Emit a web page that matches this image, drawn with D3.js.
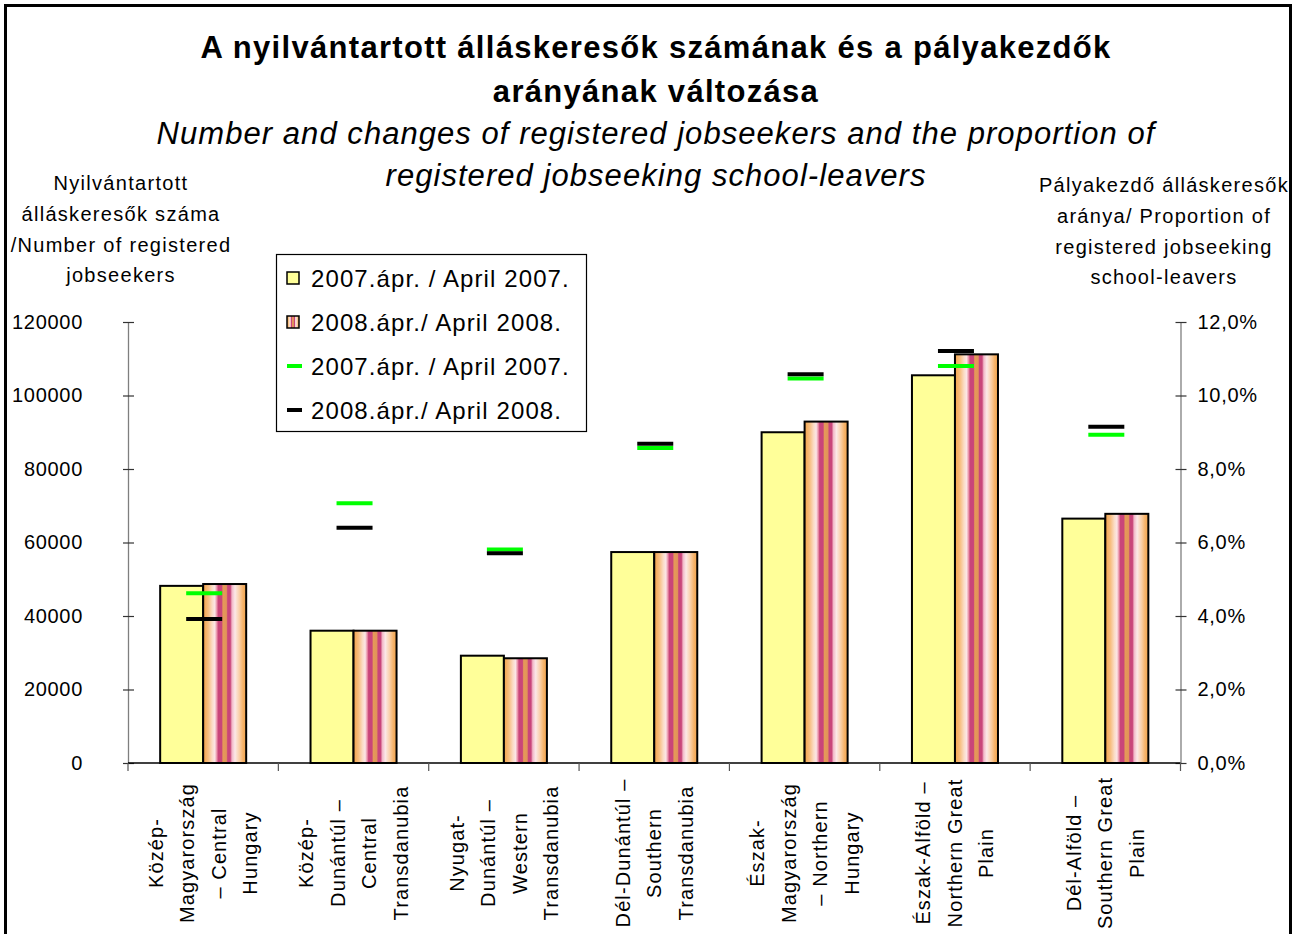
<!DOCTYPE html>
<html>
<head>
<meta charset="utf-8">
<script src="https://cdn.jsdelivr.net/npm/d3@7"></script>
<style>
    body { margin: 0; background: #fff; }
    svg { display: block; font-family: "Liberation Sans", Arial, sans-serif; }
</style>
</head>
<body>
<div id="chart"></div>
<script>
/* ===== DATA ===== */
const categories = [
    "Közép-\nMagyarország\n– Central\nHungary",
    "Közép-\nDunántúl –\nCentral\nTransdanubia",
    "Nyugat-\nDunántúl –\nWestern\nTransdanubia",
    "Dél-Dunántúl –\nSouthern\nTransdanubia",
    "Észak-\nMagyarország\n– Northern\nHungary",
    "Észak-Alföld –\nNorthern Great\nPlain",
    "Dél-Alföld –\nSouthern Great\nPlain"
];

const seriesNames = ["2007.ápr. / April 2007.", "2008.ápr./ April 2008."];

// number of registered jobseekers (left axis)
const jobseekers2007 = [48200, 36000, 29200, 57400, 90000, 105500, 66500];
const jobseekers2008 = [48700, 36000, 28500, 57400, 92900, 111200, 67800];

// proportion of school-leavers (right axis)
const leavers2007 = [0.0462, 0.0707, 0.0581, 0.0857, 0.1046, 0.1080, 0.0893];
const leavers2008 = [0.0392, 0.0640, 0.0571, 0.0869, 0.1058, 0.1121, 0.0915];

const leftTicks = [0, 20000, 40000, 60000, 80000, 100000, 120000];
const rightTicks = [0, 0.02, 0.04, 0.06, 0.08, 0.10, 0.12];

const titleLines = [
    "A nyilvántartott álláskeresők számának és a pályakezdők",
    "arányának változása"
];
const subtitleLines = [
    "Number and changes of registered jobseekers and the proportion of",
    "registered jobseeking school-leavers"
];
const leftTitle = ["Nyilvántartott", "álláskeresők száma", "/Number of registered", "jobseekers"];
const rightTitle = ["Pályakezdő álláskeresők", "aránya/ Proportion of", "registered jobseeking", "school-leavers"];

/* ===== DIMENSIONS ===== */
const width = 1301;
const height = 934;
const plot = { left: 128, right: 1180.5, top: 322, bottom: 763 };

const svg = d3.select("#chart")
    .append("svg")
    .attr("width", width)
    .attr("height", height);

/* ===== STRIPED FILL ===== */
const defs = svg.append("defs");
const grad = defs.append("linearGradient")
    .attr("id", "stripes")
    .attr("x1", "0").attr("x2", "1").attr("y1", "0").attr("y2", "0");

const stripeStops = [
    [0.00, "#f3a34a"], [0.12, "#f7be80"], [0.21, "#fbdcc6"], [0.27, "#fce6e6"],
    [0.32, "#e88ca4"], [0.35, "#c9457a"], [0.43, "#c9457a"], [0.46, "#e59a58"],
    [0.54, "#e2935a"], [0.57, "#c9457a"], [0.63, "#c9457a"], [0.67, "#f2b8c8"],
    [0.74, "#fce8e8"], [0.84, "#fad0a8"], [0.92, "#f6b46c"], [1.00, "#f3a34a"]
];
stripeStops.forEach(([o, c]) => {
    grad.append("stop").attr("offset", o).attr("stop-color", c);
});

const barFills = ["#ffff99", "url(#stripes)"];
const markerColors = ["#00ff00", "#000000"];

/* ===== SCALES ===== */
const x = d3.scaleBand()
    .domain(d3.range(categories.length))
    .range([plot.left, plot.right]);

const x1 = d3.scaleBand()
    .domain([0, 1])
    .range([0, x.bandwidth()])
    .paddingOuter(0.748);

const y = d3.scaleLinear().domain([0, 120000]).range([plot.bottom, plot.top]);
const y2 = d3.scaleLinear().domain([0, 0.12]).range([plot.bottom, plot.top]);

const pctFormat = (d) => (d * 100).toFixed(1).replace(".", ",") + "%";

/* ===== AXES ===== */
const leftAxis = svg.append("g")
    .attr("transform", `translate(${plot.left},0)`)
    .call(d3.axisLeft(y).tickValues(leftTicks).tickSize(0).tickPadding(45).tickFormat(d3.format("d")));

const rightAxis = svg.append("g")
    .attr("transform", `translate(${plot.right},0)`)
    .call(d3.axisRight(y2).tickValues(rightTicks).tickSize(0).tickPadding(17).tickFormat(pctFormat));

[leftAxis, rightAxis].forEach((g) => {
    g.select(".domain").attr("stroke", "#7f7f7f").attr("stroke-width", 1.3);
    g.selectAll(".tick line")
        .attr("x1", -5).attr("x2", 6)
        .attr("stroke", "#333").attr("stroke-width", 1.2);
    g.selectAll(".tick text")
        .attr("font-size", 20)
        .attr("letter-spacing", 0.7)
        .attr("fill", "#000");
});

// category axis
svg.append("line")
    .attr("x1", plot.left).attr("x2", plot.right)
    .attr("y1", plot.bottom).attr("y2", plot.bottom)
    .attr("stroke", "#000").attr("stroke-width", 1.3);

svg.append("g")
    .selectAll("line")
    .data(d3.range(categories.length + 1))
    .enter()
    .append("line")
    .attr("x1", (i) => plot.left + i * x.step())
    .attr("x2", (i) => plot.left + i * x.step())
    .attr("y1", plot.bottom)
    .attr("y2", plot.bottom + 8)
    .attr("stroke", "#555")
    .attr("stroke-width", 1.2);

const catLabel = svg.append("g")
    .selectAll("text")
    .data(categories)
    .enter()
    .append("text")
    .attr("transform", (d, i) => `translate(${x(i) + x.bandwidth() / 2},853) rotate(-90)`)
    .attr("text-anchor", "middle")
    .attr("font-size", 20)
    .attr("letter-spacing", 1.1);

catLabel.each(function (d) {
    const lines = d.split("\n");
    d3.select(this).selectAll("tspan")
        .data(lines)
        .enter()
        .append("tspan")
        .attr("x", 0)
        .attr("y", (l, j) => (j - (lines.length - 1) / 2) * 31.5)
        .attr("dominant-baseline", "central")
        .text((l) => l);
});

/* ===== BARS ===== */
const barSeries = [jobseekers2007, jobseekers2008];

barSeries.forEach((values, s) => {
    svg.append("g")
        .selectAll("rect")
        .data(values)
        .enter()
        .append("rect")
        .attr("x", (d, i) => x(i) + x1(s))
        .attr("y", (d) => y(d))
        .attr("width", x1.bandwidth())
        .attr("height", (d) => y(0) - y(d))
        .attr("fill", barFills[s])
        .attr("stroke", "#000")
        .attr("stroke-width", 2);
});

/* ===== MARKERS ===== */
[leavers2007, leavers2008].forEach((values, s) => {
    svg.append("g")
        .selectAll("line")
        .data(values)
        .enter()
        .append("line")
        .attr("x1", (d, i) => x(i) + x.bandwidth() / 2 - 17)
        .attr("x2", (d, i) => x(i) + x.bandwidth() / 2 + 19)
        .attr("y1", (d) => y2(d))
        .attr("y2", (d) => y2(d))
        .attr("stroke", markerColors[s])
        .attr("stroke-width", 4);
});

/* ===== TITLES ===== */
svg.append("g")
    .selectAll("text")
    .data(titleLines)
    .enter()
    .append("text")
    .attr("x", 656)
    .attr("y", (d, i) => 47 + i * 44)
    .attr("text-anchor", "middle")
    .attr("dominant-baseline", "central")
    .attr("font-size", 31)
    .attr("font-weight", "bold")
    .attr("letter-spacing", 1.3)
    .text((d) => d);

svg.append("g")
    .selectAll("text")
    .data(subtitleLines)
    .enter()
    .append("text")
    .attr("x", 656)
    .attr("y", (d, i) => 133 + i * 42)
    .attr("text-anchor", "middle")
    .attr("dominant-baseline", "central")
    .attr("font-size", 31)
    .attr("font-style", "italic")
    .attr("letter-spacing", 1.05)
    .text((d) => d);

function axisTitle(lines, cx, top) {
    svg.append("g")
        .selectAll("text")
        .data(lines)
        .enter()
        .append("text")
        .attr("x", cx)
        .attr("y", (d, i) => top + i * 30.8)
        .attr("text-anchor", "middle")
        .attr("dominant-baseline", "central")
        .attr("font-size", 20)
        .attr("letter-spacing", 1.3)
        .text((d) => d);
}

axisTitle(leftTitle, 121, 183);
axisTitle(rightTitle, 1164, 185);

/* ===== LEGEND ===== */
const legend = svg.append("g");

legend.append("rect")
    .attr("x", 276.5).attr("y", 254.5)
    .attr("width", 310).attr("height", 177)
    .attr("fill", "#fff")
    .attr("stroke", "#000")
    .attr("stroke-width", 1.2);

const legendItems = [
    { kind: "bar", s: 0 },
    { kind: "bar", s: 1 },
    { kind: "line", s: 0 },
    { kind: "line", s: 1 }
];

const item = legend.selectAll(".item")
    .data(legendItems)
    .enter()
    .append("g")
    .attr("class", "item")
    .attr("transform", (d, i) => `translate(0,${278 + i * 44})`);

item.filter((d) => d.kind === "bar")
    .append("rect")
    .attr("x", 287).attr("y", -6)
    .attr("width", 12).attr("height", 12)
    .attr("fill", (d) => barFills[d.s])
    .attr("stroke", "#000")
    .attr("stroke-width", 1.5);

item.filter((d) => d.kind === "line")
    .append("line")
    .attr("x1", 287).attr("x2", 302)
    .attr("y1", 0).attr("y2", 0)
    .attr("stroke", (d) => markerColors[d.s])
    .attr("stroke-width", 4);

item.append("text")
    .attr("x", 311)
    .attr("y", 0)
    .attr("dominant-baseline", "central")
    .attr("font-size", 24)
    .attr("letter-spacing", 1.1)
    .text((d) => seriesNames[d.s]);

/* ===== BORDER ===== */
svg.append("rect")
    .attr("x", 5.5).attr("y", 5.5)
    .attr("width", 1285).attr("height", 1000)
    .attr("fill", "none")
    .attr("stroke", "#000")
    .attr("stroke-width", 3);
</script>
</body>
</html>
